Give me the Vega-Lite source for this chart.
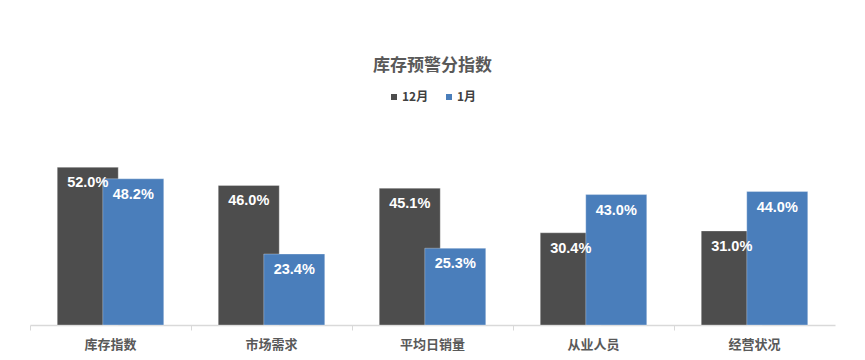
{
  "$schema": "https://vega.github.io/schema/vega-lite/v6.json",
  "autosize": "none",
  "width": 805,
  "height": 182,
  "padding": {"left": 30, "top": 143, "right": 30, "bottom": 35},
  "background": "#ffffff",
  "title": {
    "text": "库存预警分指数",
    "font": "Noto Sans CJK SC",
    "fontSize": 17,
    "fontWeight": "bold",
    "color": "#595959",
    "anchor": "middle",
    "offset": 16
  },
  "config": {
    "view": {"stroke": null},
    "legend": {"layout": {"top": {"anchor": "middle"}}}
  },
  "data": {
    "values": [
      {"cat": "库存指数", "series": "12月", "v": 0.520},
      {"cat": "库存指数", "series": "1月", "v": 0.482},
      {"cat": "市场需求", "series": "12月", "v": 0.460},
      {"cat": "市场需求", "series": "1月", "v": 0.234},
      {"cat": "平均日销量", "series": "12月", "v": 0.451},
      {"cat": "平均日销量", "series": "1月", "v": 0.253},
      {"cat": "从业人员", "series": "12月", "v": 0.304},
      {"cat": "从业人员", "series": "1月", "v": 0.430},
      {"cat": "经营状况", "series": "12月", "v": 0.310},
      {"cat": "经营状况", "series": "1月", "v": 0.440}
    ]
  },
  "encoding": {
    "x": {
      "field": "cat",
      "type": "nominal",
      "sort": null,
      "scale": {"paddingInner": 0, "paddingOuter": 0},
      "axis": {
        "title": null,
        "labelAngle": 0,
        "labelFont": "Noto Sans CJK SC",
        "labelFontSize": 13,
        "labelFontWeight": "bold",
        "labelColor": "#595959",
        "labelPadding": 8,
        "domainColor": "#d9d9d9",
        "domainWidth": 1.5,
        "tickColor": "#d9d9d9",
        "tickSize": 5,
        "bandPosition": 0
      }
    },
    "xOffset": {
      "field": "series",
      "type": "nominal",
      "scale": {"domain": ["12月", "1月"], "paddingInner": 0, "paddingOuter": 0.769}
    },
    "y": {
      "field": "v",
      "type": "quantitative",
      "scale": {"domain": [0, 0.6]},
      "axis": null
    }
  },
  "layer": [
    {
      "mark": {"type": "bar", "width": 61, "stroke": "#ffffff", "strokeWidth": 0.6, "strokeOpacity": 0.5},
      "encoding": {
        "color": {
          "field": "series",
          "type": "nominal",
          "scale": {"domain": ["12月", "1月"], "range": ["#4d4d4d", "#4a7ebb"]},
          "legend": {
            "title": null,
            "orient": "top",
            "direction": "horizontal",
            "symbolType": "square",
            "symbolSize": 36,
            "symbolStrokeWidth": 0,
            "labelOffset": 2,
            "labelFont": "Noto Sans CJK SC",
            "labelFontSize": 12,
            "labelFontWeight": "bold",
            "labelColor": "#404040",
            "columnPadding": 14,
            "offset": 40
          }
        }
      }
    },
    {
      "mark": {
        "type": "text",
        "baseline": "middle",
        "dy": 16,
        "font": "Liberation Sans",
        "fontSize": 14.5,
        "fontWeight": "bold",
        "color": "#ffffff"
      },
      "encoding": {
        "text": {"field": "v", "type": "quantitative", "format": ".1%"}
      }
    }
  ]
}
